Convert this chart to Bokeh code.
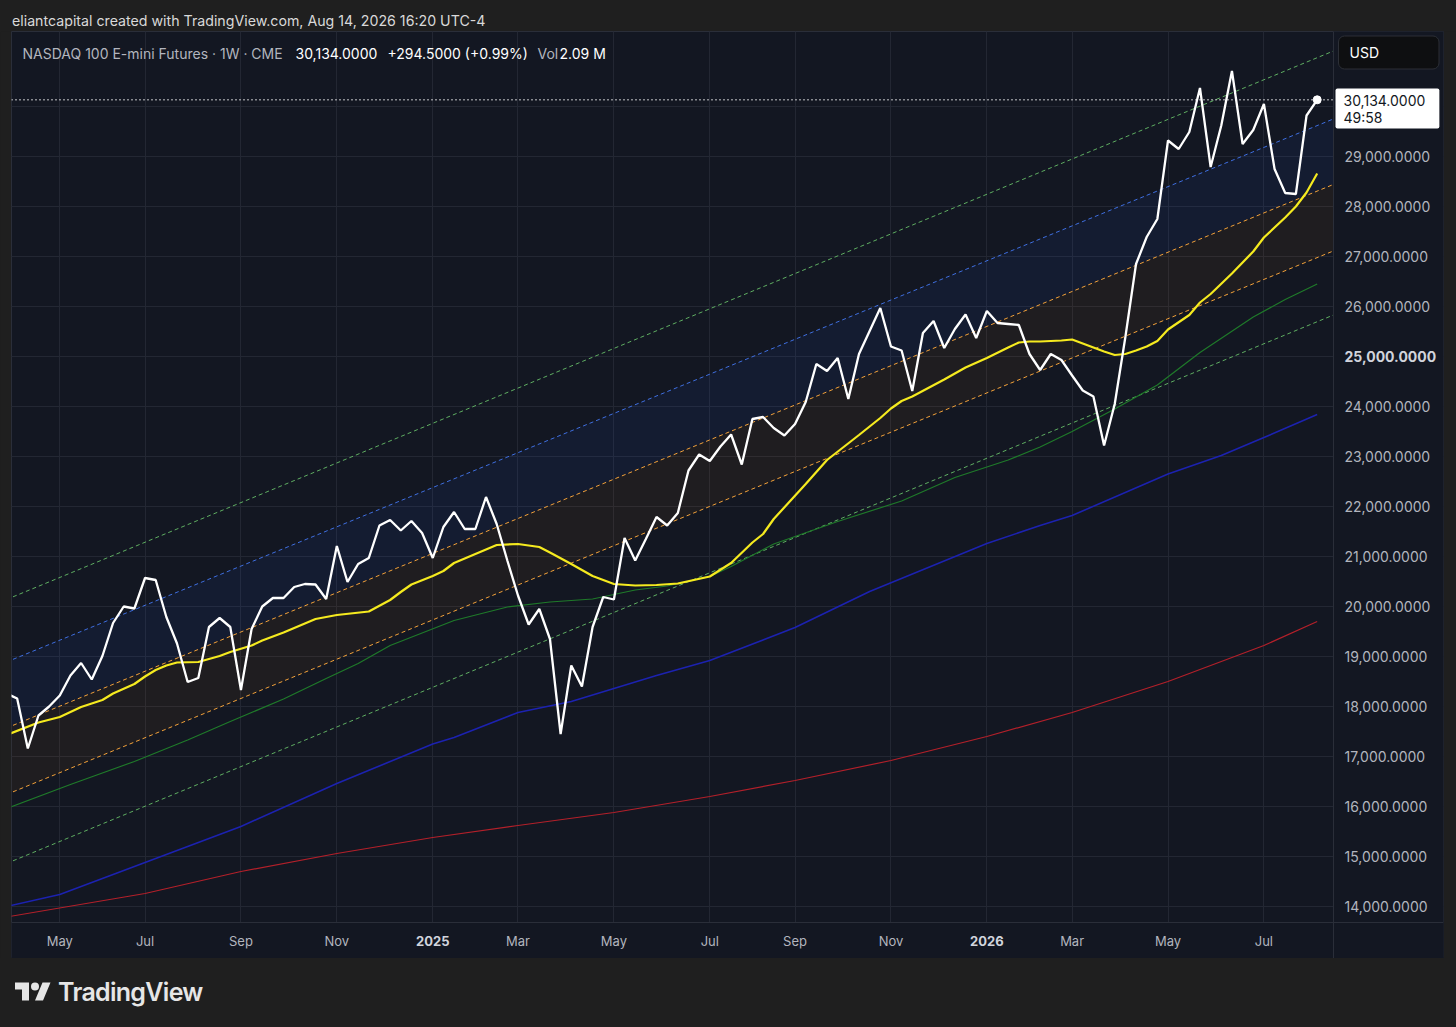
import datetime as dt
from bokeh.plotting import figure
from bokeh.models import (Range1d, FixedTicker, NumeralTickFormatter, Label, Div,
                          GlobalInlineStyleSheet)
from bokeh.layouts import column
from bokeh.embed import file_html
from bokeh.resources import INLINE

# ---------------- data ----------------
week_start = dt.date(2024, 4, 1)   # first weekly bar (Monday)

close = [18260, 18160, 17160, 17820, 18000, 18220, 18620, 18870, 18540, 19010,
         19670, 20000, 19960, 20570, 20530, 19790, 19260, 18490, 18570, 19590,
         19770, 19590, 18330, 19550, 20000, 20170, 20170, 20390, 20450, 20440,
         20150, 21210, 20490, 20850, 20970, 21620, 21730, 21520, 21710, 21470,
         20970, 21590, 21890, 21550, 21550, 22190, 21650, 20920, 20220, 19640,
         19950, 19350, 17450, 18820, 18400, 19590, 20190, 20140, 21370, 20920,
         21350, 21790, 21620, 21870, 22720, 23040, 22910, 23200, 23440, 22840,
         23750, 23790, 23570, 23420, 23650, 24090, 24850, 24710, 24970, 24150,
         25050, 25510, 25970, 25200, 25120, 24310, 25470, 25710, 25170, 25550,
         25840, 25370, 25910, 25670, 25650, 25630, 25050, 24730, 25050, 24930,
         24620, 24320, 24200, 23220, 24050, 25390, 26850, 27390, 27750, 29320,
         29150, 29490, 30370, 28790, 29620, 30710, 29250, 29530, 30050, 28750,
         28270, 28250, 29820, 30134]

yellow_week = [0, 3, 5, 7, 9, 10, 12, 13, 14, 15, 16, 18, 20, 21, 23, 24, 26, 27, 29, 30,
               31, 34, 36, 37, 38, 40, 41, 42, 44, 46, 48, 50, 51, 53, 55, 57, 59, 61, 63,
               66, 68, 70, 71, 72, 75, 77, 80, 82, 83, 84, 85, 88, 90, 92, 94, 95, 96, 97,
               99, 100, 101, 103, 104, 105, 106, 107, 108, 109, 111, 112, 113, 115, 117,
               118, 120, 121, 122, 123]
yellow_val = [17430, 17680, 17790, 17990, 18130, 18260, 18450, 18600, 18730, 18820, 18880,
              18890, 19010, 19090, 19220, 19320, 19480, 19570, 19750, 19790, 19830, 19900,
              20130, 20290, 20440, 20610, 20710, 20870, 21050, 21230, 21250, 21190, 21080,
              20850, 20610, 20450, 20420, 20430, 20460, 20600, 20870, 21280, 21450, 21750,
              22450, 22930, 23430, 23770, 23960, 24110, 24200, 24540, 24780, 24970, 25180,
              25280, 25300, 25300, 25320, 25340, 25260, 25100, 25030, 25050, 25120, 25200,
              25310, 25540, 25830, 26080, 26250, 26660, 27100, 27380, 27780, 28000, 28280,
              28660]

green_week = [0, 6, 12, 17, 21, 26, 30, 33, 36, 42, 47, 51, 55, 59, 62, 66, 68, 72, 78, 84,
              89, 94, 97, 100, 104, 108, 112, 117, 120, 123]
green_val = [15960, 16440, 16900, 17330, 17700, 18150, 18560, 18860, 19220, 19720, 19990,
             20090, 20150, 20330, 20410, 20600, 20800, 21250, 21700, 22110, 22580, 22930,
             23190, 23500, 23950, 24430, 25080, 25790, 26140, 26450]

blue_week = [0, 5, 13, 22, 31, 40, 42, 48, 53, 57, 61, 66, 74, 81, 92, 97, 100, 109, 114,
             118, 123]
blue_val = [14000, 14240, 14880, 15600, 16460, 17250, 17380, 17880, 18100, 18360, 18620,
            18920, 19580, 20300, 21260, 21620, 21820, 22650, 23020, 23380, 23840]

red_week = [0, 13, 22, 31, 40, 48, 57, 66, 74, 83, 92, 100, 109, 118, 123]
red_val = [13790, 14260, 14700, 15060, 15380, 15620, 15880, 16200, 16520, 16920, 17400,
           17880, 18500, 19220, 19700]

# regression channel levels (value at week 0 and at week 126)
channel_weeks = [0, 126]
chan_upper2 = [20140, 31240]
chan_upper1 = [18890, 29880]
chan_mid_hi = [17570, 28570]
chan_mid_lo = [16240, 27240]
chan_lower = [14860, 25960]

tick_dates = ["2024-05-06", "2024-07-01", "2024-09-02", "2024-11-04", "2025-01-06",
              "2025-03-03", "2025-05-05", "2025-07-07", "2025-09-01", "2025-11-03",
              "2026-01-05", "2026-03-02", "2026-05-04", "2026-07-06"]
tick_labels = ["May", "Jul", "Sep", "Nov", "2025", "Mar", "May", "Jul", "Sep", "Nov",
               "2026", "Mar", "May", "Jul"]
price_ticks = list(range(14000, 30001, 1000))

last_price = 30134.0
# ---------------------------------------

BG = "#1f1f1f"
PANEL = "#131722"
GRID = "#232733"
BORDER = "#2a2e39"
AXIS_TXT = "#b2b5be"
FONT = "Inter"

weeks = list(range(len(close)))
tick_weeks = [(dt.date.fromisoformat(d) - week_start).days // 7 for d in tick_dates]

# page-pixel helpers for placing annotations (x: week index, y: price)
def wx(px):
    return (px - 6.0) / 10.656

def py(pxy):
    return 14000 + (906 - pxy) * 20

X0, X1 = wx(11), wx(1443)
Y0, Y1 = py(958), py(31)

p = figure(frame_width=1432, frame_height=927,
           x_range=Range1d(X0, X1), y_range=Range1d(Y0, Y1),
           y_axis_location="right", output_backend="svg", toolbar_location=None,
           min_border_left=11, min_border_right=13, min_border_top=0, min_border_bottom=0,
           background_fill_color=PANEL, border_fill_color=BG,
           outline_line_color=BORDER)

# axes drawn at the edges of the price / time panels
p.xaxis.fixed_location = py(922)
p.yaxis.fixed_location = wx(1333)
p.xaxis.ticker = FixedTicker(ticks=tick_weeks)
p.xaxis.major_label_overrides = {w: ("" if lab.isdigit() else lab)
                                 for w, lab in zip(tick_weeks, tick_labels)}
p.yaxis.ticker = FixedTicker(ticks=price_ticks)
p.yaxis.formatter = NumeralTickFormatter(format="0,0.0000")
p.yaxis.major_label_overrides = {25000: "", 30000: ""}
for ax in (p.xaxis[0], p.yaxis[0]):
    ax.axis_line_color = BORDER
    ax.major_tick_line_color = None
    ax.minor_tick_line_color = None
    ax.major_tick_out = 0
    ax.major_tick_in = 0
    ax.major_label_text_color = AXIS_TXT
    ax.major_label_text_font = FONT
p.xaxis.major_label_text_font_size = "13px"
p.yaxis.major_label_text_font_size = "14px"
p.xaxis.major_label_standoff = 10
p.yaxis.major_label_standoff = 11
p.xgrid.ticker = FixedTicker(ticks=tick_weeks)
p.ygrid.ticker = FixedTicker(ticks=price_ticks)
p.grid.grid_line_color = GRID
p.grid.grid_line_width = 1

# channel fills
p.varea(x=channel_weeks, y1=chan_upper1, y2=chan_mid_hi, fill_color="#2962ff", fill_alpha=0.07)
p.varea(x=channel_weeks, y1=chan_mid_hi, y2=chan_mid_lo, fill_color="#ff9800", fill_alpha=0.055)

# channel dashed lines
for vals, col in [(chan_upper2, "#5fae62"), (chan_upper1, "#3f6fe0"), (chan_mid_hi, "#f3a23a"),
                  (chan_mid_lo, "#f3a23a"), (chan_lower, "#5fae62")]:
    p.line(channel_weeks, vals, line_color=col, line_width=1, line_dash="4 3")

# moving averages
p.line(red_week, red_val, line_color="#b3202a", line_width=1.2)
p.line(blue_week, blue_val, line_color="#1c22b0", line_width=1.6)
p.line(green_week, green_val, line_color="#1f7a2a", line_width=1.2)
p.line(yellow_week, yellow_val, line_color="#f5ea1f", line_width=2.2)

# price
p.line([X0, X1], [last_price, last_price], line_color="#ffffff", line_width=1.5,
       line_dash="1 3")
p.line(weeks, close, line_color="#ffffff", line_width=2.3)
p.scatter([weeks[-1]], [close[-1]], size=8, color="#ffffff")

# price-scale and time-scale panels (cover grid / lines outside the pane)
p.quad(left=[wx(1333)], right=[X1 + 1], bottom=[Y0 - 100], top=[Y1 + 100],
       fill_color=PANEL, line_color=None)
p.quad(left=[X0 - 1], right=[X1 + 1], bottom=[Y0 - 100], top=[py(922)],
       fill_color=PANEL, line_color=None)

# legend header
legend_y = py(53)
for txt, xpx, col in [("NASDAQ 100 E-mini Futures · 1W · CME", 22, AXIS_TXT),
                      ("30,134.0000", 295, "#ffffff"),
                      ("+294.5000 (+0.99%)", 387, "#ffffff"),
                      ("Vol", 537, AXIS_TXT),
                      ("2.09 M", 559, "#ffffff")]:
    p.add_layout(Label(x=wx(xpx), y=legend_y, text=txt, text_color=col, text_font=FONT,
                       text_font_size="14px", text_baseline="middle", text_align="left"))

# bold year tick labels
for w, lab in zip(tick_weeks, tick_labels):
    if lab.isdigit():
        p.add_layout(Label(x=w, y=py(940), text=lab, text_color="#d1d4dc", text_font=FONT,
                           text_font_size="13px", text_font_style="bold",
                           text_align="center", text_baseline="middle"))

# bold 25,000 price label
p.add_layout(Label(x=wx(1344), y=25000, text="25,000.0000", text_color="#d1d4dc",
                   text_font=FONT, text_font_size="14px", text_font_style="bold",
                   text_align="left", text_baseline="middle"))

# last price box
p.add_layout(Label(x=wx(1335), y=py(88), text="30,134.0000\n49:58", text_color="#131722",
                   text_font=FONT, text_font_size="14px", text_align="left",
                   text_baseline="top", text_line_height=1.0,
                   background_fill_color="#ffffff",
                   padding=dict(left=8, right=14, top=3, bottom=3), border_radius=2))

# USD box
p.add_layout(Label(x=wx(1338), y=py(52), text="USD", text_color="#ffffff",
                   text_font=FONT, text_font_size="14px", text_align="left",
                   text_baseline="middle", background_fill_color="#0e0f11",
                   border_line_color="#2c2f36", border_line_width=1,
                   padding=dict(left=11, right=60, top=8, bottom=8), border_radius=6))

header = Div(text=('<div style="width:1456px;height:31px;line-height:23px;padding:9px 0 0 12px;'
                   'box-sizing:border-box;color:#d9d9d9;font-family:Inter,sans-serif;'
                   'font-size:14.2px;white-space:nowrap;">'
                   'eliantcapital created with TradingView.com, Aug 14, 2026 16:20 UTC-4</div>'),
             width=1456, height=31, margin=0, styles={"background-color": BG})

logo_svg = ('<svg width="36" height="29" viewBox="0 0 36 28" style="display:block">'
            '<path fill="#e6e6e6" d="M14 22H7V11H0V4h14v18zM28 22h-8l7.5-18h8L28 22z"/>'
            '<circle fill="#e6e6e6" cx="20" cy="8" r="4"/></svg>')
footer = Div(text=('<div style="width:1456px;height:66px;box-sizing:border-box;padding-top:3px;'
                   'padding-left:15px;display:flex;align-items:center;">' + logo_svg +
                   '<span style="margin-left:7px;color:#e6e6e6;font-family:Inter,sans-serif;'
                   'font-weight:600;font-size:25px;letter-spacing:-0.7px;">TradingView</span></div>'),
             width=1456, height=66, margin=0, styles={"background-color": BG})

layout = column(header, p, footer, spacing=0,
                styles={"background-color": BG},
                stylesheets=[GlobalInlineStyleSheet(
                    css="html, body { background-color: #1f1f1f; margin: 0; }")])

open("out.html", "w").write(file_html(layout, INLINE))
